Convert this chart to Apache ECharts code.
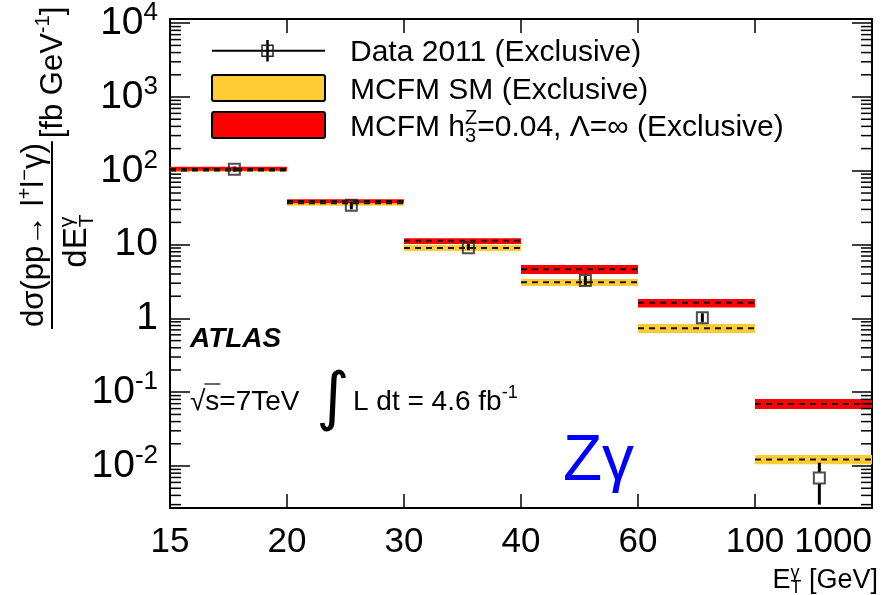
<!DOCTYPE html>
<html><head><meta charset="utf-8">
<script src="https://cdn.jsdelivr.net/npm/echarts@6/dist/echarts.min.js"></script>
<style>html,body{margin:0;padding:0;background:#fff}#c{width:891px;height:595px}</style>
</head><body><div id="c"></div>
<script>
// ---------------- data ----------------
const binLabels = ['15', '20', '30', '40', '60', '100', '1000'];
const dataValue   = [105, 34.1, 9.1, 3.26, 1.02, 0.0069];
const dataErrLow  = [97, 30.1, 8.4, 2.84, 0.874, 0.0030];
const dataErrHigh = [114, 38.1, 10.2, 3.75, 1.18, 0.0111];
const smValue = [101, 36.3, 9.0, 3.08, 0.735, 0.0123];
const smLow   = [97, 33.7, 8.2, 2.75, 0.634, 0.0106];
const smHigh  = [105, 37.4, 9.9, 3.42, 0.84, 0.0141];
const h3Value = [106, 39.0, 11.3, 4.63, 1.63, 0.0692];
const h3Low   = [100.3, 36.3, 10.2, 4.0, 1.41, 0.0592];
const h3High  = [113.7, 41.1, 12.2, 5.29, 1.83, 0.0809];
const yTickExponents = [-2, -1, 0, 1, 2, 3, 4];
const yTickTexts = ['10{sup|-2}', '10{sup|-1}', '1', '10', '10{sup|2}', '10{sup|3}', '10{sup|4}'];

// ---------------- layout / style ----------------
const FONT = '"Liberation Sans", Arial, Helvetica, sans-serif';
const Y_MIN = 0.0027, Y_MAX = 11400;
const DATA_X_SHIFT = 0.55;
const YELLOW = '#ffcc33', RED = '#ff0000';

const cv = document.createElement('canvas').getContext('2d');
function fstr(size, o) { o = o || {}; return (o.style || 'normal') + ' ' + (o.weight || 'normal') + ' ' + size + 'px ' + (o.family || FONT); }
function mo(size, o) {
  cv.font = fstr(size, o);
  cv.textBaseline = 'alphabetic'; const a = cv.measureText('H').actualBoundingBoxAscent;
  cv.textBaseline = 'middle'; const b = cv.measureText('H').actualBoundingBoxAscent;
  cv.textBaseline = 'alphabetic';
  return a - b;
}
function mw(t, size, o) { cv.font = fstr(size, o); return cv.measureText(t).width; }
function T(t, x, base, size, o) {
  o = o || {};
  return { type: 'text', x: x, y: base - mo(size, o), silent: true, z: 100,
    style: { text: t, fontSize: size, fontFamily: o.family || FONT, fontWeight: o.weight || 'normal',
      fontStyle: o.style || 'normal', fill: o.color || '#000', align: o.align || 'left', verticalAlign: 'middle' } };
}
// sequence of runs; item: {t,size,dy} or {sup,sub,size,mainSize}
function runs(list, x, base, out) {
  let cx = x;
  list.forEach(r => {
    if (r.t !== undefined) {
      out.push(T(r.t, cx, base + (r.dy || 0), r.size, r));
      cx += mw(r.t, r.size, r);
    } else {
      let w = 0;
      if (r.sup) { out.push(T(r.sup, cx, base - 0.38 * r.mainSize, r.size)); w = Math.max(w, mw(r.sup, r.size)); }
      if (r.sub) { out.push(T(r.sub, cx, base + 0.2 * r.mainSize, r.size)); w = Math.max(w, mw(r.sub, r.size)); }
      cx += w;
    }
  });
  return cx - x;
}
function runsWidth(list) {
  let w = 0;
  list.forEach(r => {
    if (r.t !== undefined) w += mw(r.t, r.size, r);
    else w += Math.max(r.sup ? mw(r.sup, r.size) : 0, r.sub ? mw(r.sub, r.size) : 0);
  });
  return w;
}

// ---------------- graphics (texts, legend, titles) ----------------
const G = [];
// y-axis title (rotated group; local x along text, local y toward screen right)
const YT = [];
const F = 31, FS = 20;
const numer = [{ t: 'dσ(pp→ l', size: F }, { t: '+', size: FS, dy: -0.38 * F }, { t: 'l', size: F },
  { t: '−', size: FS, dy: -0.38 * F }, { t: 'γ)', size: F }];
const nw = runsWidth(numer);
const barLen = nw + 4;
runs(numer, 2, -9, YT);
YT.push({ type: 'line', silent: true, shape: { x1: 0, y1: 0, x2: barLen, y2: 0 }, style: { stroke: '#000', lineWidth: 2 } });
const denom = [{ t: 'dE', size: 33 }, { sup: 'γ', sub: 'T', size: 21, mainSize: 33 }];
const dw = runsWidth(denom);
runs(denom, barLen / 2 - dw / 2 - 6, 34, YT);
runs([{ t: '[fb GeV', size: F }, { t: '-1', size: FS, dy: -0.42 * F }, { t: ']', size: F }], barLen + 3, 10, YT);
G.push({ type: 'group', x: 52, y: 329, rotation: Math.PI / 2, children: YT, z: 100 });

// x-axis title, right aligned
const xt = [{ t: 'E', size: 27 }, { sup: 'γ', sub: 'T', size: 18, mainSize: 27 }, { t: ' [GeV]', size: 27 }];
runs(xt, 878 - runsWidth(xt), 588, G);

// legend
G.push({ type: 'line', silent: true, shape: { x1: 212, y1: 50.7, x2: 325, y2: 50.7 }, style: { stroke: '#000', lineWidth: 2 } });
G.push({ type: 'line', silent: true, shape: { x1: 267.5, y1: 40, x2: 267.5, y2: 61.5 }, style: { stroke: '#000', lineWidth: 2.5 } });
G.push({ type: 'rect', silent: true, shape: { x: 262, y: 45.2, width: 11, height: 11 }, style: { fill: 'rgba(0,0,0,0)', stroke: '#222', lineWidth: 1.5 } });
G.push({ type: 'rect', silent: true, shape: { x: 212, y: 75, width: 113, height: 26, r: 2 }, style: { fill: YELLOW, stroke: '#000', lineWidth: 2 } });
G.push({ type: 'rect', silent: true, shape: { x: 212, y: 112, width: 113, height: 26, r: 2 }, style: { fill: RED, stroke: '#000', lineWidth: 2 } });
const LF = 30;
G.push(T('Data 2011 (Exclusive)', 350, 61, LF));
G.push(T('MCFM SM (Exclusive)', 350, 98.5, LF));
runs([{ t: 'MCFM h', size: LF }, { sup: 'Z', sub: '3', size: 20, mainSize: LF }, { t: '=0.04, Λ=∞ (Exclusive)', size: LF }], 350, 135.5, G);

// ATLAS labels
G.push(T('ATLAS', 190, 346.5, 28, { weight: 'bold', style: 'italic' }));
G.push(T('√', 190, 410, 28));
const sqw = mw('√', 28);
G.push(T('s=7TeV', 190 + sqw, 410, 28));
G.push({ type: 'line', silent: true, shape: { x1: 190 + sqw - 1, y1: 384, x2: 190 + sqw + mw('s', 28) + 1, y2: 384 }, style: { stroke: '#000', lineWidth: 1.2 } });
G.push(T('∫', 333, 418, 64, { align: 'center', family: '"DejaVu Sans", sans-serif' }));
runs([{ t: 'L dt = 4.6 fb', size: 28 }, { t: '-1', size: 18, dy: -12 }], 353, 410, G);
// Z gamma
G.push(T('Zγ', 563, 480, 64, { color: '#0000ff' }));

// ---------------- minor ticks for log axis (decoration) ----------------
const minorTickValues = [];
for (let e = -3; e <= 4; e++) for (let k = 2; k <= 9; k++) {
  const v = k * Math.pow(10, e);
  if (v > Y_MIN && v < Y_MAX) minorTickValues.push(v);
}

function bandSeries(lo, hi, color, z) {
  return { type: 'custom', silent: true, z: z, clip: true,
    data: lo.map((l, i) => [i, l, hi[i]]), encode: { x: 0, y: [1, 2] },
    renderItem: (params, api) => {
      const i = api.value(0);
      const p1 = api.coord([i, api.value(2)]);
      const p2 = api.coord([i + 1, api.value(1)]);
      return { type: 'rect', shape: { x: p1[0], y: p1[1], width: p2[0] - p1[0], height: p2[1] - p1[1] }, style: { fill: color } };
    } };
}
function centralLine(vals, z) {
  return { type: 'custom', silent: true, z: z, clip: true,
    data: vals.map((v, i) => [i, v]), encode: { x: 0, y: 1 },
    renderItem: (params, api) => {
      const i = api.value(0);
      const a = api.coord([i, api.value(1)]);
      const b = api.coord([i + 1, api.value(1)]);
      return { type: 'line', shape: { x1: a[0], y1: a[1], x2: b[0], y2: b[1] }, style: { stroke: '#111', lineWidth: 2, lineDash: [6, 5] } };
    } };
}

const option = {
  animation: false,
  backgroundColor: '#fff',
  grid: { left: 170, right: 19, top: 19, bottom: 87, containLabel: false },
  xAxis: [{
    type: 'value', min: 0, max: 6, interval: 1, position: 'bottom',
    axisLine: { show: true, onZero: false, lineStyle: { color: '#000', width: 2 } },
    axisTick: { show: true, inside: true, length: 14, lineStyle: { color: '#000', width: 1.5 } },
    axisLabel: { formatter: v => binLabels[Math.round(v)], fontSize: 35, fontFamily: FONT, color: '#000', margin: 17, alignMaxLabel: 'right' },
    splitLine: { show: false }
  }, {
    type: 'value', min: 0, max: 6, interval: 1, position: 'top',
    axisLine: { show: true, onZero: false, lineStyle: { color: '#000', width: 2 } },
    axisTick: { show: true, inside: true, length: 14, lineStyle: { color: '#000', width: 1.5 } },
    axisLabel: { show: false }, splitLine: { show: false }
  }],
  yAxis: [{
    type: 'log', logBase: 10, min: Y_MIN, max: Y_MAX, position: 'left',
    axisLine: { show: true, onZero: false, lineStyle: { color: '#000', width: 2 } },
    axisTick: { show: true, inside: true, length: 20, lineStyle: { color: '#000', width: 1.5 } },
    axisLabel: {
      margin: 12, color: '#000', fontFamily: FONT, fontSize: 39, showMinLabel: false, showMaxLabel: false,
      formatter: v => {
        const e = Math.log10(v); const r = Math.round(e);
        if (Math.abs(e - r) > 1e-6) return '';
        const idx = yTickExponents.indexOf(r);
        return idx < 0 ? '' : yTickTexts[idx];
      },
      rich: { sup: { fontSize: 26, fontFamily: FONT, color: '#000', lineHeight: 22, verticalAlign: 'top' } },
      lineHeight: 46
    },
    splitLine: { show: false }
  }, {
    type: 'log', logBase: 10, min: Y_MIN, max: Y_MAX, position: 'right',
    axisLine: { show: true, onZero: false, lineStyle: { color: '#000', width: 2 } },
    axisTick: { show: true, inside: true, length: 20, lineStyle: { color: '#000', width: 1.5 } },
    axisLabel: { show: false }, splitLine: { show: false }
  }],
  series: [
    bandSeries(smLow, smHigh, YELLOW, 1),
    bandSeries(h3Low, h3High, RED, 2),
    centralLine(smValue, 3),
    centralLine(h3Value, 3),
    { type: 'custom', silent: true, z: 5, clip: true,
      data: dataValue.map((v, i) => [i + DATA_X_SHIFT, v, dataErrLow[i], dataErrHigh[i]]), encode: { x: 0, y: [1, 2, 3] },
      renderItem: (params, api) => {
        const x = api.value(0);
        const c = api.coord([x, api.value(1)]);
        const lo = api.coord([x, api.value(2)]);
        const hi = api.coord([x, api.value(3)]);
        const half = 6, kids = [];
        const st = { stroke: '#000', lineWidth: 3 };
        if (lo[1] - c[1] > half + 1 || c[1] - hi[1] > half + 1) {
          if (lo[1] > c[1] + half) kids.push({ type: 'line', shape: { x1: c[0], y1: c[1] + half, x2: c[0], y2: lo[1] }, style: st });
          if (hi[1] < c[1] - half) kids.push({ type: 'line', shape: { x1: c[0], y1: hi[1], x2: c[0], y2: c[1] - half }, style: st });
        } else {
          kids.push({ type: 'line', shape: { x1: c[0], y1: Math.max(hi[1], c[1] - half + 1.5), x2: c[0], y2: Math.min(lo[1], c[1] + half - 1.5) }, style: st });
        }
        return { type: 'group', children: kids };
      } },
    { type: 'scatter', z: 6, silent: true, symbol: 'rect', symbolSize: 11,
      data: dataValue.map((v, i) => [i + DATA_X_SHIFT, v]),
      itemStyle: { color: 'rgba(0,0,0,0)', borderColor: '#222', borderWidth: 2 } },
    { type: 'custom', silent: true, z: 7, clip: false,
      data: minorTickValues.map(v => [0, v]), encode: { x: 0, y: 1 },
      renderItem: (params, api) => {
        const a = api.coord([0, api.value(1)]);
        const b = api.coord([6, api.value(1)]);
        const st = { stroke: '#000', lineWidth: 1.5 };
        return { type: 'group', children: [
          { type: 'line', shape: { x1: a[0], y1: a[1], x2: a[0] + 11, y2: a[1] }, style: st },
          { type: 'line', shape: { x1: b[0] - 11, y1: b[1], x2: b[0], y2: b[1] }, style: st }
        ] };
      } }
  ],
  graphic: G
};
const chart = echarts.init(document.getElementById('c'), null, { renderer: 'canvas' });
chart.setOption(option);
</script></body></html>
